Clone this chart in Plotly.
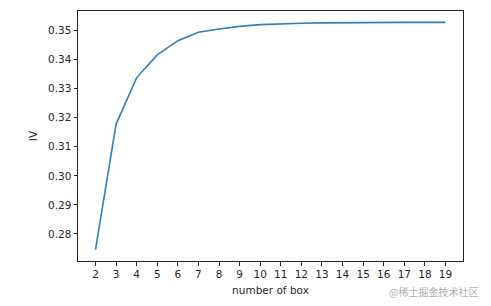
import plotly.graph_objects as go

box_counts = list(range(2, 20))
iv_values = [0.2746, 0.3178, 0.3338, 0.3416, 0.3465, 0.3494, 0.3505, 0.3514,
             0.3520, 0.3523, 0.3525, 0.3526, 0.3527, 0.3527, 0.3528, 0.3528,
             0.3528, 0.3528]
y_ticks = [0.28, 0.29, 0.30, 0.31, 0.32, 0.33, 0.34, 0.35]

fig = go.Figure(go.Scatter(x=box_counts, y=iv_values, mode="lines",
                           line=dict(color="#2f7fb8", width=1.6)))

font = dict(family="DejaVu Sans", size=10.5, color="#262626")
fig.update_layout(
    width=491, height=306,
    margin=dict(l=78, r=28, t=11, b=45),
    paper_bgcolor="white", plot_bgcolor="white",
    showlegend=False, font=font,
    xaxis=dict(range=[1.15, 19.85], tickmode="array", tickvals=box_counts,
               showline=True, linecolor="#222", linewidth=1, mirror=True,
               ticks="outside", ticklen=3.5, tickcolor="#222", showgrid=False,
               zeroline=False, title=dict(text="number of box", standoff=7, font=font)),
    yaxis=dict(range=[0.2707, 0.3567], tickmode="array", tickvals=y_ticks,
               tickformat=".2f",
               showline=True, linecolor="#222", linewidth=1, mirror=True,
               ticks="outside", ticklen=3.5, tickcolor="#222", showgrid=False,
               zeroline=False, title=dict(text="IV", standoff=8, font=font)),
)
fig.add_annotation(text="@稀土掘金技术社区", xref="paper", yref="paper",
                   x=1.044, y=-0.12, xanchor="right", yanchor="middle", showarrow=False,
                   font=dict(family="Noto Sans CJK SC", size=10, color="#b0b0b0"))
fig.write_html("out.html")
